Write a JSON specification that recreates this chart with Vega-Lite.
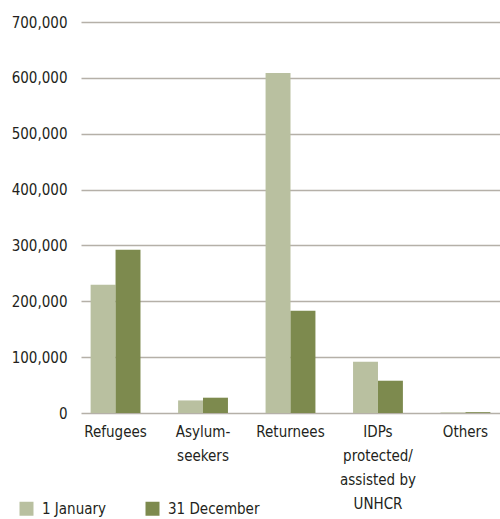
{
  "$schema": "https://vega.github.io/schema/vega-lite/v6.json",
  "autosize": "none",
  "width": 419,
  "height": 391,
  "padding": {"left": 81, "top": 22, "right": 0, "bottom": 106},
  "background": "white",
  "data": {
    "values": [
      {"category": "Refugees", "date": "1 January", "value": 229500},
      {"category": "Refugees", "date": "31 December", "value": 292100},
      {"category": "Asylum-seekers", "date": "1 January", "value": 22500},
      {"category": "Asylum-seekers", "date": "31 December", "value": 27400},
      {"category": "Returnees", "date": "1 January", "value": 608800},
      {"category": "Returnees", "date": "31 December", "value": 183000},
      {"category": "IDPs protected/assisted by UNHCR", "date": "1 January", "value": 91800},
      {"category": "IDPs protected/assisted by UNHCR", "date": "31 December", "value": 57800},
      {"category": "Others", "date": "1 January", "value": 1000},
      {"category": "Others", "date": "31 December", "value": 1500}
    ]
  },
  "mark": {"type": "bar"},
  "encoding": {
    "x": {
      "field": "category",
      "type": "nominal",
      "sort": null,
      "title": null,
      "scale": {"paddingInner": 0.43, "paddingOuter": 0.11},
      "axis": {
        "domain": false,
        "ticks": false,
        "labelAngle": 0,
        "labelPadding": 11,
        "labelFont": "'DejaVu Sans Condensed', 'Roboto Condensed', Roboto",
        "labelFontSize": 15,
        "labelColor": "#231f20",
        "labelLineHeight": 24,
        "labelBaseline": "top",
        "labelLimit": 200,
        "labelExpr": "datum.value == 'Asylum-seekers' ? ['Asylum-', 'seekers'] : datum.value == 'IDPs protected/assisted by UNHCR' ? ['IDPs', 'protected/', 'assisted by', 'UNHCR'] : datum.label"
      }
    },
    "xOffset": {
      "field": "date",
      "type": "nominal",
      "scale": {"paddingInner": 0, "paddingOuter": 0}
    },
    "y": {
      "field": "value",
      "type": "quantitative",
      "title": null,
      "scale": {"domain": [0, 700000], "nice": false},
      "axis": {
        "values": [0, 100000, 200000, 300000, 400000, 500000, 600000, 700000],
        "format": ",d",
        "domain": false,
        "ticks": false,
        "labelPadding": 14,
        "labelFont": "'DejaVu Sans Condensed', 'Roboto Condensed', Roboto",
        "labelFontSize": 15,
        "labelColor": "#231f20",
        "gridColor": "#b5b0a8",
        "gridWidth": 1.5,
        "gridOpacity": 1
      }
    },
    "color": {
      "field": "date",
      "type": "nominal",
      "scale": {"domain": ["1 January", "31 December"], "range": ["#b9c0a0", "#7d8a4e"]},
      "legend": {
        "title": null,
        "orient": "none",
        "legendX": -62,
        "legendY": 479,
        "direction": "horizontal",
        "columns": 2,
        "columnPadding": 38,
        "symbolType": "square",
        "symbolSize": 196,
        "symbolStrokeWidth": 0,
        "labelFont": "'DejaVu Sans Condensed', 'Roboto Condensed', Roboto",
        "labelFontSize": 15,
        "labelColor": "#231f20",
        "labelOffset": 8
      }
    }
  },
  "config": {
    "view": {"stroke": null},
    "axis": {"zindex": 0}
  }
}
